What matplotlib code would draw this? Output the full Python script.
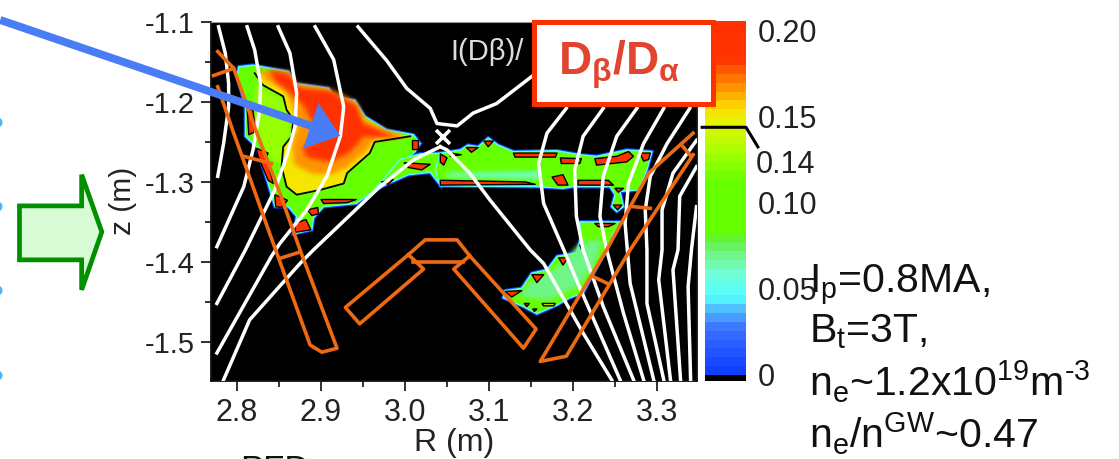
import numpy as np
from matplotlib import pyplot as plt
from matplotlib.colors import LinearSegmentedColormap
from matplotlib.patches import Polygon, FancyArrowPatch, Rectangle

plt.rcParams['font.family'] = ['Liberation Sans', 'DejaVu Sans']
plt.rcParams['mathtext.fontset'] = 'custom'
plt.rcParams['mathtext.rm'] = 'Liberation Sans'
plt.rcParams['mathtext.it'] = 'Liberation Sans'
plt.rcParams['mathtext.bf'] = 'Liberation Sans:bold'
plt.rcParams['mathtext.default'] = 'rm'
plt.rcParams['axes.unicode_minus'] = False

# colour bar
bar_values = [0.0, 0.025, 0.035, 0.044, 0.058, 0.07, 0.078, 0.081, 0.112, 0.132, 0.151, 0.159, 0.168, 0.177, 0.186, 0.206]
bar_colors = ['#1040ff', '#3a70ff', '#4fb0ff', '#55ffff', '#70ffd8', '#70f580', '#60f040', '#66ff00', '#66ff00',
              '#aaff00', '#f0f000', '#ffcc00', '#ff9900', '#ff6600', '#ff3300', '#ff3000']
bar_ticks = [0, 0.05, 0.10, 0.15, 0.20]
bar_labels = ['0', '0.05', '0.10', '0.15', '0.20']

x_ticks = [2.8, 2.9, 3.0, 3.1, 3.2, 3.3]
x_minor = [2.85, 2.95, 3.05, 3.15, 3.25]
y_ticks = [-1.1, -1.2, -1.3, -1.4, -1.5]
y_minor = [-1.15, -1.25, -1.35, -1.45]

# emission regions (R, z), with the level
main_lobe = [(2.802, -1.156), (2.819, -1.154), (2.861, -1.162), (2.869, -1.177), (2.909, -1.183), (2.915, -1.194),
             (2.940, -1.198), (2.952, -1.218), (2.978, -1.235), (3.010, -1.241), (3.018, -1.252), (3.012, -1.262),
             (3.002, -1.272), (2.994, -1.285), (2.962, -1.312), (2.942, -1.327), (2.903, -1.331), (2.891, -1.345),
             (2.889, -1.360), (2.867, -1.365), (2.871, -1.343), (2.861, -1.331), (2.845, -1.331), (2.837, -1.302),
             (2.823, -1.256), (2.810, -1.243), (2.810, -1.206), (2.800, -1.168)]
connector = [(2.962, -1.312), (2.978, -1.303), (3.004, -1.291), (3.030, -1.288), (3.042, -1.304), (3.042, -1.264),
             (3.018, -1.265), (2.994, -1.272)]
strip = [(3.042, -1.264), (3.066, -1.260), (3.075, -1.254), (3.087, -1.256), (3.099, -1.245), (3.111, -1.254),
         (3.129, -1.262), (3.181, -1.261), (3.208, -1.266), (3.228, -1.268), (3.264, -1.260), (3.294, -1.262),
         (3.288, -1.285), (3.278, -1.310), (3.256, -1.312), (3.260, -1.331), (3.252, -1.337), (3.246, -1.331),
         (3.250, -1.316), (3.244, -1.306), (3.200, -1.306), (3.188, -1.308), (3.157, -1.306), (3.042, -1.305),
         (3.036, -1.285)]
lower_right = [(3.208, -1.350), (3.258, -1.350), (3.248, -1.364), (3.238, -1.389), (3.218, -1.427), (3.212, -1.439),
               (3.196, -1.445), (3.181, -1.454), (3.157, -1.465), (3.141, -1.456), (3.117, -1.445), (3.119, -1.436),
               (3.139, -1.433), (3.151, -1.414), (3.169, -1.410), (3.181, -1.393), (3.204, -1.389), (3.210, -1.368)]
green_regions = [main_lobe, connector, strip, lower_right]
green_level = 0.098

left_wash = [(2.823, -1.179), (2.855, -1.195), (2.867, -1.222), (2.863, -1.245), (2.855, -1.256), (2.851, -1.281),
             (2.831, -1.260), (2.821, -1.223)]
strip_wash = [(3.05, -1.289), (3.16, -1.287), (3.16, -1.296), (3.05, -1.294)]
lower_wash = [(3.135, -1.443), (3.150, -1.425), (3.170, -1.415), (3.190, -1.398), (3.210, -1.375), (3.235, -1.372),
              (3.225, -1.405), (3.205, -1.432), (3.170, -1.448)]

core_base = [(2.821, -1.164), (2.861, -1.165), (2.869, -1.179), (2.909, -1.185), (2.915, -1.196), (2.940, -1.200),
             (2.950, -1.219), (2.978, -1.237), (3.006, -1.243), (2.964, -1.250), (2.958, -1.264), (2.931, -1.289),
             (2.927, -1.302), (2.899, -1.310), (2.871, -1.316), (2.859, -1.306), (2.853, -1.281), (2.855, -1.256),
             (2.865, -1.243), (2.867, -1.222), (2.859, -1.210), (2.855, -1.193), (2.831, -1.179)]
core_contour = [(2.821, -1.164), (2.831, -1.179), (2.855, -1.193), (2.859, -1.210), (2.867, -1.222), (2.865, -1.243),
                (2.855, -1.256), (2.853, -1.281), (2.859, -1.306), (2.871, -1.316), (2.899, -1.310), (2.927, -1.302),
                (2.931, -1.289), (2.958, -1.264), (2.964, -1.250), (3.006, -1.243)]
core_orange = [(2.825, -1.160), (2.862, -1.162), (2.871, -1.178), (2.909, -1.183), (2.942, -1.200), (2.952, -1.222),
               (2.980, -1.237), (3.002, -1.244), (2.964, -1.246), (2.955, -1.260), (2.930, -1.282), (2.915, -1.290),
               (2.890, -1.290), (2.868, -1.278), (2.866, -1.255), (2.873, -1.228), (2.865, -1.204), (2.858, -1.185),
               (2.833, -1.172)]
core_red = [(2.838, -1.160), (2.862, -1.165), (2.873, -1.182), (2.909, -1.186), (2.942, -1.204), (2.950, -1.227),
            (2.980, -1.240), (2.998, -1.244), (2.962, -1.244), (2.950, -1.243), (2.944, -1.252), (2.933, -1.264),
            (2.911, -1.275), (2.885, -1.270), (2.877, -1.258), (2.893, -1.250), (2.889, -1.224), (2.879, -1.204),
            (2.861, -1.187), (2.847, -1.176)]

red_spots = [
    [(2.812, -1.208), (2.819, -1.210), (2.822, -1.237), (2.814, -1.241)],
    [(2.823, -1.258), (2.837, -1.264), (2.835, -1.268), (2.843, -1.302), (2.837, -1.298), (2.825, -1.268)],
    [(2.845, -1.316), (2.860, -1.323), (2.853, -1.332), (2.846, -1.331)],
    [(2.900, -1.322), (2.942, -1.322), (2.931, -1.326), (2.903, -1.327)],
    [(2.884, -1.335), (2.896, -1.332), (2.897, -1.340), (2.889, -1.342)],
    [(2.869, -1.352), (2.882, -1.347), (2.888, -1.360), (2.869, -1.363)],
    [(3.008, -1.248), (3.015, -1.248), (3.015, -1.259), (3.008, -1.259)],
    [(2.999, -1.276), (3.030, -1.278), (3.020, -1.285), (3.004, -1.282)],
    [(2.972, -1.300), (2.986, -1.297), (2.980, -1.303)],
    [(3.129, -1.264), (3.181, -1.264), (3.179, -1.269), (3.131, -1.269)],
    [(3.185, -1.270), (3.210, -1.271), (3.208, -1.277), (3.186, -1.277)],
    [(3.226, -1.271), (3.252, -1.268), (3.266, -1.262), (3.272, -1.268), (3.264, -1.275), (3.228, -1.279)],
    [(3.280, -1.264), (3.292, -1.264), (3.290, -1.272), (3.284, -1.274)],
    [(3.094, -1.249), (3.105, -1.249), (3.099, -1.256)],
    [(3.073, -1.257), (3.087, -1.257), (3.079, -1.263)],
    [(3.054, -1.264), (3.067, -1.266), (3.054, -1.268)],
    [(3.042, -1.265), (3.050, -1.270), (3.046, -1.279), (3.042, -1.275)],
    [(3.042, -1.298), (3.143, -1.300), (3.155, -1.303), (3.042, -1.304)],
    [(3.206, -1.298), (3.242, -1.298), (3.248, -1.304), (3.206, -1.304)],
    [(3.175, -1.294), (3.188, -1.291), (3.194, -1.304), (3.182, -1.304)],
    [(3.250, -1.308), (3.260, -1.308), (3.254, -1.313)],
    [(3.248, -1.329), (3.258, -1.329), (3.253, -1.335)],
    [(3.226, -1.352), (3.250, -1.352), (3.242, -1.356), (3.230, -1.356)],
    [(3.183, -1.395), (3.194, -1.395), (3.188, -1.404)],
    [(3.151, -1.416), (3.165, -1.416), (3.157, -1.426)],
    [(3.119, -1.437), (3.139, -1.436), (3.127, -1.444)],
    [(3.142, -1.452), (3.148, -1.452), (3.145, -1.456)],
    [(3.152, -1.459), (3.157, -1.459), (3.154, -1.462)],
    [(3.208, -1.379), (3.212, -1.379), (3.210, -1.384)],
]
yellow_spot = [(3.163, -1.452), (3.179, -1.452), (3.177, -1.455), (3.165, -1.455)]

# flux surfaces
flux_lines = [
    [(2.778, -1.106), (2.786, -1.139), (2.790, -1.177), (2.790, -1.206), (2.784, -1.252), (2.777, -1.293)],
    [(2.812, -1.106), (2.821, -1.135), (2.828, -1.177), (2.827, -1.210), (2.819, -1.260), (2.808, -1.306), (2.776, -1.381)],
    [(2.849, -1.106), (2.863, -1.139), (2.871, -1.189), (2.869, -1.231), (2.859, -1.268), (2.845, -1.310), (2.810, -1.385), (2.776, -1.452)],
    [(2.893, -1.106), (2.915, -1.147), (2.927, -1.206), (2.923, -1.243), (2.907, -1.293), (2.883, -1.335), (2.851, -1.377), (2.841, -1.393), (2.776, -1.514)],
    [(2.944, -1.106), (2.978, -1.148), (3.002, -1.183), (3.030, -1.208), (3.038, -1.227), (3.062, -1.230), (3.081, -1.214), (3.109, -1.202), (3.151, -1.168)],
    [(3.042, -1.256), (3.010, -1.2725), (2.970, -1.306), (2.891, -1.385), (2.875, -1.402), (2.815, -1.4725), (2.784, -1.5475)],
    [(3.042, -1.256), (3.050, -1.260), (3.077, -1.289), (3.101, -1.3225), (3.149, -1.385), (3.165, -1.402), (3.212, -1.489), (3.246, -1.5475)],
    [(3.192, -1.208), (3.169, -1.239), (3.159, -1.277), (3.165, -1.327), (3.189, -1.385), (3.204, -1.4225), (3.256, -1.5475)],
    [(3.236, -1.208), (3.212, -1.243), (3.202, -1.285), (3.204, -1.343), (3.212, -1.385), (3.236, -1.456), (3.272, -1.5475)],
    [(3.276, -1.208), (3.252, -1.243), (3.236, -1.293), (3.232, -1.343), (3.240, -1.385), (3.260, -1.464), (3.284, -1.5475)],
    [(3.308, -1.208), (3.284, -1.252), (3.266, -1.302), (3.262, -1.352), (3.268, -1.427), (3.296, -1.5475)],
    [(3.339, -1.208), (3.312, -1.252), (3.292, -1.293), (3.286, -1.335), (3.288, -1.385), (3.288, -1.452), (3.308, -1.5475)],
    [(3.347, -1.248), (3.319, -1.289), (3.306, -1.335), (3.306, -1.385), (3.302, -1.4225), (3.316, -1.5475)],
    [(3.347, -1.281), (3.327, -1.318), (3.325, -1.385), (3.319, -1.41), (3.328, -1.5475)],
    [(3.347, -1.331), (3.341, -1.385), (3.337, -1.431), (3.340, -1.5475)],
]

# first wall outline
wall_lines = [
    [(2.777, -1.137), (2.796, -1.158), (2.825, -1.243), (2.851, -1.314), (2.875, -1.385), (2.919, -1.508), (2.901, -1.513),
     (2.887, -1.504), (2.833, -1.3475), (2.819, -1.306), (2.796, -1.239), (2.777, -1.181)],
    [(2.772, -1.167), (2.796, -1.158)],
    [(2.808, -1.268), (2.841, -1.277)],
    [(2.853, -1.395), (2.874, -1.388)],
    [(3.004, -1.391), (2.929, -1.457), (2.946, -1.4775), (3.022, -1.409), (3.004, -1.391)],
    [(3.004, -1.391), (3.024, -1.3725), (3.062, -1.3725), (3.077, -1.3925)],
    [(3.010, -1.4), (3.069, -1.4)],
    [(3.077, -1.3925), (3.156, -1.484), (3.141, -1.508), (3.058, -1.409), (3.077, -1.3925)],
    [(3.343, -1.266), (3.268, -1.385), (3.192, -1.518), (3.161, -1.5246), (3.240, -1.385), (3.290, -1.289), (3.343, -1.239)],
    [(3.223, -1.418), (3.242, -1.4275)],
    [(3.272, -1.331), (3.292, -1.333)],
    [(3.331, -1.256), (3.339, -1.266)],
]

x_point = (3.045, -1.244)
arrow_start = (2.518, -1.0975)
arrow_tip = (2.923, -1.2425)
green_arrow = [(2.541, -1.33), (2.615, -1.33), (2.615, -1.291), (2.639, -1.3625), (2.615, -1.435), (2.615, -1.3975), (2.541, -1.3975)]
edge_dots_r = [2.5137, 2.5137, 2.5137, 2.5137]
edge_dots_z = [-1.225, -1.33, -1.435, -1.541]
title_box = (3.154, -1.203, 0.213, 0.1024)
leader_x = [-0.07, 1.0, 1.29]
leader_v = [0.144, 0.144, 0.1326]


def soften(image, dpi):
    # blur a patch so the colour levels run into each other
    steps = 14
    pad = steps + 2
    h, w = image.shape[:2]
    out = np.zeros((h + 2 * pad, w + 2 * pad, 4))
    out[pad:pad + h, pad:pad + w] = image
    alpha = out[..., 3:]
    rgb = out[..., :3] * alpha
    for _ in range(steps):
        for arr in (rgb, alpha):
            arr[:] = (arr + np.roll(arr, 1, 0) + np.roll(arr, -1, 0) + np.roll(arr, 1, 1) + np.roll(arr, -1, 1)) / 5
    out[..., :3] = rgb / np.maximum(alpha, 1e-4)
    return np.clip(out, 0, 1), -pad, -pad


fig = plt.figure(figsize=(11.19, 4.59), dpi=100)
ax = fig.add_axes([211 / 1119, 1 - 381 / 459, 486 / 1119, 359.5 / 459], facecolor='black')
cax = fig.add_axes([705 / 1119, 1 - 381 / 459, 41 / 1119, 360 / 459])
ax.set_zorder(2)
cax.set_zorder(1)

cmap = LinearSegmentedColormap.from_list('dbeta', [(v / bar_values[-1], c) for v, c in zip(bar_values, bar_colors)], N=40)
def level(v):
    return cmap(v / bar_values[-1])

for region in green_regions:
    ax.add_patch(Polygon(region, closed=True, facecolor='none', edgecolor=level(0.005), lw=2.6, zorder=2))
for region in green_regions:
    ax.add_patch(Polygon(region, closed=True, facecolor=level(green_level), edgecolor=level(0.048), lw=1.0, zorder=3))
for wash, v in [(left_wash, 0.128), (strip_wash, 0.06), (lower_wash, 0.072)]:
    patch = Polygon(wash, closed=True, facecolor=level(v), edgecolor='none', zorder=4)
    patch.set_agg_filter(soften)
    ax.add_patch(patch)
ax.add_patch(Polygon(core_base, closed=True, facecolor=level(0.152), edgecolor='none', zorder=5))
for core, v in [(core_orange, 0.168), (core_red, 0.2)]:
    patch = Polygon(core, closed=True, facecolor=level(v), edgecolor='none', zorder=6)
    patch.set_agg_filter(soften)
    ax.add_patch(patch)
ax.plot([p[0] for p in core_contour], [p[1] for p in core_contour], color='black', lw=1.3, zorder=7)
for spot in red_spots:
    ax.add_patch(Polygon(spot, closed=True, facecolor=level(0.2), edgecolor='black', lw=1.0, joinstyle='round', zorder=8))
ax.add_patch(Polygon(yellow_spot, closed=True, facecolor=level(0.152), edgecolor='black', lw=1.0, zorder=8))

for line in flux_lines:
    ax.plot([p[0] for p in line], [p[1] for p in line], color='white', lw=2.5, solid_joinstyle='round', zorder=9)
for line in wall_lines:
    ax.plot([p[0] for p in line], [p[1] for p in line], color='#ee6a12', lw=2.6, zorder=10)
ax.plot(x_point[0], x_point[1], marker='x', color='white', ms=10, mew=2.6, zorder=11)

ax.text(3.0535, -1.1475, 'I(D\u03b2)/', color='#dddddd', fontsize=21, ha='left', va='baseline', zorder=11)

ax.add_patch(FancyArrowPatch(arrow_start, arrow_tip, arrowstyle='simple,head_length=1.5,head_width=2.3,tail_width=0.38',
                             mutation_scale=15, color='#4a7cf5', lw=0, shrinkA=0, shrinkB=0, clip_on=False, zorder=12))
ax.add_patch(Polygon(green_arrow, closed=True, facecolor='#d8fbd6', edgecolor='#009000', lw=3.4, clip_on=False, zorder=12))
ax.plot(edge_dots_r, edge_dots_z, 'o', color='#4db4f5', ms=7.2, ls='none', mew=0, clip_on=False, zorder=12)

ax.add_patch(Rectangle(title_box[:2], title_box[2], title_box[3], facecolor='white', edgecolor='#ff3000', lw=3.6,
                       clip_on=False, zorder=13))
ax.text(3.182, -1.166, r'$\mathbf{D_{\beta}/D_{\alpha}}$', color='#e2452f', fontsize=33, ha='left', va='baseline',
        fontweight='bold', zorder=14)

ax.set_xlim(2.769, 3.3476)
ax.set_ylim(-1.549, -1.0994)
ax.set_xticks(x_ticks)
ax.set_xticks(x_minor, minor=True)
ax.set_yticks(y_ticks)
ax.set_yticks(y_minor, minor=True)
ax.set_xticklabels(['%.1f' % t for t in x_ticks], fontsize=22)
ax.set_yticklabels(['%.1f' % t for t in y_ticks], fontsize=21)
ax.tick_params(which='major', length=7, width=1.3, pad=5, color='#222222', labelcolor='#222222')
ax.tick_params(which='minor', length=4, width=1.3, color='#222222')
ax.set_xlabel('R (m)', fontsize=23, color='#222222', labelpad=0)
ax.set_ylabel('z (m)', fontsize=21.5, color='#222222', labelpad=5)
for side in ['left', 'bottom', 'right']:
    ax.spines[side].set_linewidth(1.3)
    ax.spines[side].set_color('#111111')
ax.spines['top'].set_color('#999999')
ax.spines['top'].set_linewidth(0.8)

# colour bar drawn by hand because of the black bottom step
edges = np.linspace(0, bar_values[-1], 41)
cax.pcolormesh([0, 1], edges, ((edges[:-1] + edges[1:]) / 2).reshape(-1, 1), cmap=cmap, vmin=0, vmax=bar_values[-1])
cax.axhspan(-0.0035, 0.0, color='black', lw=0)
cax.set_xlim(0, 1)
cax.set_ylim(-0.0035, 0.2058)
cax.set_xticks([])
cax.yaxis.tick_right()
cax.set_yticks(bar_ticks)
cax.set_yticklabels(bar_labels, fontsize=22, color='#222222')
cax.tick_params(length=0, pad=8.5)
for spine in cax.spines.values():
    spine.set_visible(False)
cax.text(1.24, 0.122, '0.14', fontsize=22, color='#222222', va='center', ha='left')
cax.plot(leader_x, leader_v, color='black', lw=2.2, clip_on=False, zorder=5)

# condition text on the right
cond_lines = ['I$_{p}$=0.8MA,', 'B$_{t}$=3T,', r'n$_{e}$~1.2x10$^{19}$m$^{\text{-}3}$', 'n$_{e}$/n$^{GW}$~0.47']
cond_y = [292, 342, 396, 448]
for txt, py in zip(cond_lines, cond_y):
    fig.text(809 / 1119, 1 - py / 459, txt, fontsize=29.5, color='#111111', ha='left', va='baseline', zorder=20)

# caption below, cut off by the edge of the slide
fig.text(240 / 1119, 1 - 480 / 459, 'PFD', fontsize=25, color='#111111', ha='left', va='baseline')

fig.savefig('out.png', dpi=100)
